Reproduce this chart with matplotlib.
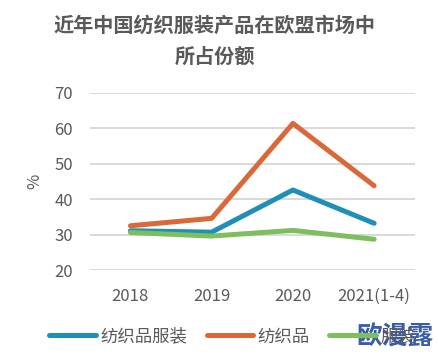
import matplotlib.pyplot as plt

plt.rcParams['font.family'] = ['Noto Sans CJK SC', 'DejaVu Sans']

years = ['2018', '2019', '2020', '2021(1-4)']
textile_apparel = [31.1, 30.7, 42.6, 33.2]   # 纺织品服装
textile = [32.5, 34.6, 61.4, 43.8]           # 纺织品
apparel = [30.6, 29.6, 31.2, 28.7]           # 服装

gray = '#595959'

fig = plt.figure(figsize=(4.38, 3.63), dpi=100)
ax = fig.add_axes([0.205, 0.256, 0.742, 0.488])

x = range(len(years))
ax.plot(x, textile_apparel, color='#1f8fb8', lw=3.6, solid_capstyle='round', label='纺织品服装', zorder=3)
ax.plot(x, textile, color='#d9693a', lw=3.6, solid_capstyle='round', label='纺织品', zorder=3)
ax.plot(x, apparel, color='#7dbf5e', lw=3.6, solid_capstyle='round', label='服装', zorder=3)

ax.set_xlim(-0.5, 3.5)
ax.set_ylim(20, 70)
ax.set_yticks(range(20, 71, 10))
ax.set_xticks(list(x))
ax.set_xticklabels(years)
ax.grid(axis='y', color='#d9d9d9', lw=1.4)
ax.set_axisbelow(True)
for s in ax.spines.values():
    s.set_visible(False)
ax.tick_params(length=0, labelsize=12, colors=gray)
ax.tick_params(axis='x', pad=13)
ax.tick_params(axis='y', pad=12)
ax.set_ylabel('%', color=gray, fontsize=12, labelpad=8)

fig.text(0.49, 0.93, '近年中国纺织服装产品在欧盟市场中', ha='center', va='center',
         fontsize=14.5, color=gray, fontweight='bold')
fig.text(0.49, 0.845, '所占份额', ha='center', va='center',
         fontsize=14.5, color=gray, fontweight='bold')

leg = fig.legend(loc='center', bbox_to_anchor=(0.53, 0.073), ncol=3, frameon=False,
                 fontsize=12.5, handlelength=2.7, handletextpad=0.25, columnspacing=1.1,
                 labelcolor=gray)

fig.text(0.99, 0.073, '欧漫露', ha='right', va='center', fontsize=18.5,
         fontweight='bold', color='#3a5ca8', zorder=5)

fig.savefig('out.png', dpi=100)
